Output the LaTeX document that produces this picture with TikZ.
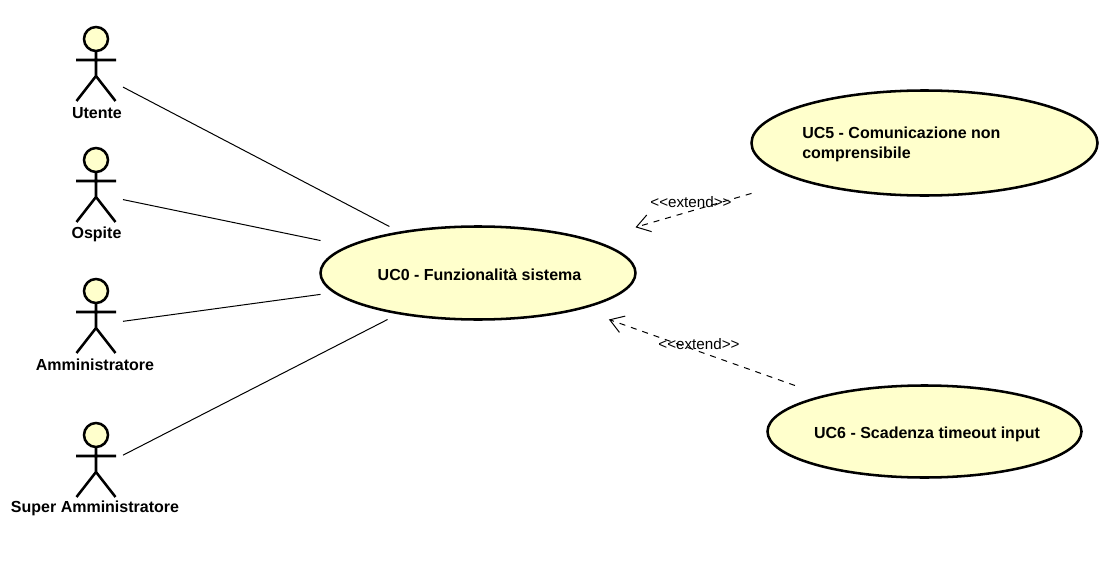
\documentclass[tikz,border=0pt]{standalone}
\usepackage{fontspec}
\setmainfont{Liberation Sans}
\usetikzlibrary{shapes.geometric, arrows.meta, positioning, fit}
\definecolor{ucfill}{HTML}{FFFFCC}
\tikzset{
    usecase/.style={
        ellipse,
        draw=black,
        line width=1.9pt,
        fill=ucfill,
        inner sep=0pt,
        outer sep=0pt
    },
    ucbox/.style={
        rectangle,
        inner sep=0pt,
        outer sep=0pt
    },
    actorbox/.style={
        rectangle,
        inner sep=0pt,
        outer sep=0pt,
        minimum width=40.5pt,
        minimum height=69pt
    },
    stickman/.pic={
        \draw[line width=1.9pt, fill=ucfill] (0,-34) circle (12);
        \draw[line width=1.9pt] (0,-22) -- (0,3) (-20,-13) -- (20,-13)
            (-19.5,28) -- (0,3) -- (19.5,28);
    },
    actorlabel/.style={
        font=\fontsize{12pt}{12pt}\selectfont\bfseries,
        inner sep=0pt
    },
    uclabel/.style={
        font=\fontsize{12pt}{15pt}\selectfont\bfseries,
        inner sep=0pt,
        align=left
    },
    extendlabel/.style={
        font=\fontsize{11.4pt}{12pt}\selectfont,
        inner sep=0pt
    },
    assoc/.style={
        line width=0.75pt
    },
    extendarrow/.style={
        -{Straight Barb[length=10pt, width=13pt]},
        line width=0.75pt,
        dash pattern=on 4.5pt off 4.5pt
    }
}
\begin{document}
\begin{tikzpicture}[x=0.75pt, y=-0.75pt]

    \useasboundingbox (0,0) rectangle (1115,571);

    % Actors
    \node[actorbox] (utente) at (96,73) {};
    \pic at (utente) {stickman};
    \node[actorlabel] (utentelab) at (97,113) {Utente};

    \node[actorbox] (ospite) at (96,194) {};
    \pic at (ospite) {stickman};
    \node[actorlabel] (ospitelab) at (96.5,234.5) {Ospite};

    \node[actorbox] (admin) at (96,325) {};
    \pic at (admin) {stickman};
    \node[actorlabel] (adminlab) at (95,365) {Amministratore};

    \node[actorbox] (superadmin) at (96,469) {};
    \pic at (superadmin) {stickman};
    \node[actorlabel] (superlab) at (95,508.5) {Super Amministratore};

    % Use cases
    \node[usecase, minimum width=236.25pt, minimum height=69.75pt] (uc0) at (478,273) {};
    \node[ucbox, fit=(uc0)] (uc0box) {};
    \node[uclabel] (uc0lab) at (479.5,275) {UC0 - Funzionalità sistema};

    \node[usecase, minimum width=259.5pt, minimum height=78.75pt] (uc5) at (924.5,143) {};
    \node[ucbox, fit=(uc5)] (uc5box) {};
    \node[uclabel, anchor=west] (uc5lab) at (802,144) {UC5 - Comunicazione non\\comprensibile};

    \node[usecase, minimum width=235.5pt, minimum height=69pt] (uc6) at (924.5,431.5) {};
    \node[ucbox, fit=(uc6)] (uc6box) {};
    \node[uclabel] (uc6lab) at (927,434.5) {UC6 - Scadenza timeout input};

    % Associations
    \draw[assoc] (utente) -- (uc0box);
    \draw[assoc] (ospite) -- (uc0box);
    \draw[assoc] (admin) -- (uc0box);
    \draw[assoc] (superadmin) -- (uc0box);

    % Extends
    \draw[extendarrow] (uc5box) -- (uc0box);
    \draw[extendarrow] (uc6box) -- (uc0box);
    \node[extendlabel] (ext5) at (691,202) {{<}{<}extend{>}{>}};
    \node[extendlabel] (ext6) at (699,344) {{<}{<}extend{>}{>}};

\end{tikzpicture}
\end{document}
